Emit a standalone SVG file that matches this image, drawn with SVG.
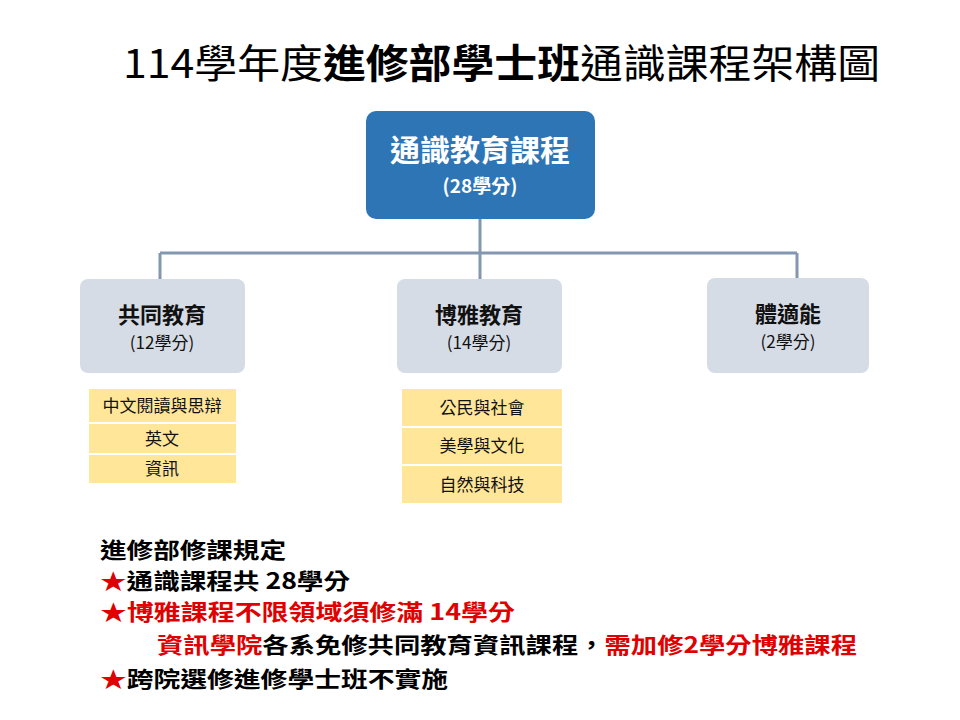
<svg xmlns="http://www.w3.org/2000/svg" width="960" height="720" viewBox="0 0 960 720">
<style>
text{font-family:"Noto Sans CJK TC","Liberation Sans",sans-serif}
.c{fill:#D6DCE5}
.y{fill:#FFE699}
.n{font-size:22px;font-weight:bold;fill:#111;text-anchor:middle}
.s{font-size:17px;fill:#111;text-anchor:middle}
.i{font-size:17px;fill:#111;text-anchor:middle}
.r{font-size:22px;font-weight:bold;fill:#000}
.red{fill:#E00000}
</style>
<rect width="960" height="720" fill="#fff"/>
<text x="123" y="78" font-size="40" fill="#000" textLength="757" lengthAdjust="spacingAndGlyphs">114學年度<tspan font-weight="bold">進修部學士班</tspan>通識課程架構圖</text>
<g id="connectors" stroke="#8497B0" stroke-width="3" fill="none">
<path d="M480 219V253M160 253H797M160 253V280M480 253V280M797 253V280"/>
</g>
<g id="root"><rect x="366" y="111" width="229" height="108" rx="10" fill="#2E75B6"/>
<text x="480" y="161" font-size="30" font-weight="bold" fill="#fff" text-anchor="middle">通識教育課程</text>
<text x="480" y="193" font-size="19" font-weight="bold" fill="#fff" text-anchor="middle">(28學分)</text></g>
<g id="common"><rect class="c" x="80" y="279" width="165" height="94" rx="8"/>
<text class="n" x="162" y="323">共同教育</text><text class="s" x="162" y="349">(12學分)</text></g>
<g id="liberal"><rect class="c" x="397" y="279" width="165" height="94" rx="8"/>
<text class="n" x="479" y="323">博雅教育</text><text class="s" x="479" y="349">(14學分)</text></g>
<g id="pe"><rect class="c" x="707" y="278" width="162" height="95" rx="8"/>
<text class="n" x="788" y="322">體適能</text><text class="s" x="788" y="348">(2學分)</text></g>
<g id="common-items">
<rect class="y" x="89" y="389" width="147" height="33"/><rect class="y" x="89" y="424" width="147" height="29"/><rect class="y" x="89" y="455" width="147" height="28"/>
<text class="i" x="162" y="412">中文閱讀與思辯</text><text class="i" x="162" y="445">英文</text><text class="i" x="162" y="475">資訊</text></g>
<g id="liberal-items">
<rect class="y" x="402" y="389" width="160" height="37"/><rect class="y" x="402" y="428" width="160" height="36"/><rect class="y" x="402" y="466" width="160" height="37"/>
<text class="i" x="482" y="414">公民與社會</text><text class="i" x="482" y="452">美學與文化</text><text class="i" x="482" y="491">自然與科技</text></g>
<g id="rules">
<text class="r" x="100" y="558" font-size="20" textLength="186" lengthAdjust="spacingAndGlyphs">進修部修課規定</text>
<text class="r" x="100" y="589" textLength="250" lengthAdjust="spacingAndGlyphs"><tspan class="red">★</tspan>通識課程共 28學分</text>
<text class="r red" x="100" y="620" textLength="415" lengthAdjust="spacingAndGlyphs">★博雅課程不限領域須修滿 14學分</text>
<text class="r" x="157" y="653" textLength="700" lengthAdjust="spacingAndGlyphs"><tspan class="red">資訊學院</tspan>各系免修共同教育資訊課程，<tspan class="red">需加修2學分博雅課程</tspan></text>
<text class="r" x="100" y="687" textLength="348" lengthAdjust="spacingAndGlyphs"><tspan class="red">★</tspan>跨院選修進修學士班不實施</text>
</g>
</svg>
